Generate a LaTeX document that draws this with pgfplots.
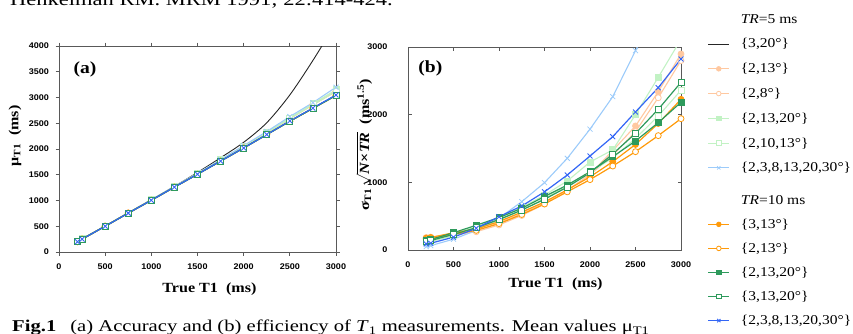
\documentclass[border=0pt]{standalone}
\usepackage{fontspec}
\setmainfont{Liberation Serif}[FakeStretch=1.15]
\setsansfont{Liberation Sans}[FakeStretch=1.1]
\newfontfamily\capfont{Liberation Serif}[FakeStretch=1.25]
\usepackage{amsmath}
\usepackage{pgfplots}
\usepackage{pgfplotstable}
\pgfplotsset{compat=1.18}
\definecolor{peach}{HTML}{FFC8A0}
\definecolor{lgreen}{HTML}{C2F2C4}
\definecolor{lblue}{HTML}{9CCBFA}
\definecolor{orng}{HTML}{FF9A0A}
\definecolor{grn}{HTML}{2E9A5C}
\definecolor{blu}{HTML}{3366F5}
\newcommand\ls{\rule[-3pt]{0pt}{12pt}}
\pgfplotsset{
  base/.style={
    scale only axis,
    xmin=0, xmax=3000,
    xtick={0,500,...,3000},
    scaled ticks=false,
    /pgf/number format/1000 sep={},
    /pgf/number format/assume math mode=true,
    ticklabel style={font=\sffamily\bfseries\fontsize{8.2}{9}\selectfont},
    axis line style={draw=black!65, line width=0.9pt},
    major tick style={draw=black!65, line width=0.7pt},
    major tick length=3.5pt,
    label style={font=\bfseries\fontsize{14}{16}\selectfont},
    legend image code/.code={\draw[mark repeat=2,mark phase=2,##1] plot coordinates {(0pt,0pt)(10.5pt,0pt)(21pt,0pt)};},
    legend image post style={mark size=2.3pt},
    legend cell align=left,
  },
  s5a/.style={black!85, line width=0.9pt, no markers, smooth},
  s5b/.style={peach, line width=1.1pt, mark=*, mark size=3pt, mark options={solid, line width=0.8pt, fill=peach, draw=peach}},
  s5c/.style={peach, line width=1.1pt, mark=*, mark size=3pt, mark options={solid, line width=0.8pt, fill=white, draw=peach}},
  s5d/.style={lgreen, line width=1.1pt, mark=square*, mark size=3pt, mark options={solid, line width=0.8pt, fill=lgreen, draw=lgreen}},
  s5e/.style={lgreen, line width=1.1pt, mark=square*, mark size=3pt, mark options={solid, line width=0.8pt, fill=white, draw=lgreen}},
  s5f/.style={lblue, line width=1.1pt, mark=x, mark size=3.5pt, mark options={solid, line width=0.8pt}},
  s10a/.style={orng, line width=1.2pt, mark=*, mark size=3pt, mark options={solid, line width=0.8pt, fill=orng, draw=orng}},
  s10b/.style={orng, line width=1.2pt, mark=*, mark size=3pt, mark options={solid, line width=0.8pt, fill=white, draw=orng}},
  s10c/.style={grn, line width=1.2pt, mark=square*, mark size=3pt, mark options={solid, line width=0.8pt, fill=grn, draw=grn}},
  s10d/.style={grn, line width=1.2pt, mark=square*, mark size=3pt, mark options={solid, line width=0.8pt, fill=white, draw=grn}},
  s10e/.style={blu, line width=1.2pt, mark=x, mark size=3.5pt, mark options={solid, line width=0.9pt}},
}
\pgfplotstableread{
T    k5a   k5b   k5c   k5d   k5e   k5f   k10a  k10b  k10c  k10d  k10e
200  200   205   205   205   205   205   200   200   200   200   200
250  250   255   255   255   255   255   250   250   250   250   250
500  505   505   505   505   505   505   500   500   500   500   500
750  760   758   758   758   758   760   755   755   755   755   755
1000 1015  1010  1010  1012  1010  1015  1005  1005  1005  1005  1005
1250 1275  1265  1265  1268  1265  1275  1260  1260  1260  1260  1260
1500 1545  1520  1520  1525  1520  1530  1510  1510  1510  1510  1510
1750 1830  1785  1785  1790  1785  1795  1765  1765  1765  1765  1765
2000 2130  2045  2045  2055  2045  2065  2020  2020  2020  2020  2020
2250 2510  2310  2310  2325  2310  2340  2280  2280  2280  2280  2280
2500 3050  2590  2590  2600  2590  2630  2540  2540  2540  2540  2545
2750 3720  2860  2860  2880  2860  2900  2790  2790  2790  2790  2795
3000 4450  3120  3120  3150  3120  3200  3040  3040  3040  3040  3050
}\tableA
\pgfplotstableread{
T    k5b   k5c   k5d   k5e   k5f   k10a  k10b  k10c  k10d  k10e
200  185   170   130   110   50    175   160   140   120   90
250  190   175   145   125   65    185   170   155   140   100
500  240   220   240   210   160   255   230   256   230   190
750  290   270   340   310   290   310   290   365   330   320
1000 400   370   470   440   470   420   390   480   450   493
1250 540   510   630   590   714   560   525   616   590   650
1500 700   680   810   760   995   710   680   790   750   860
1750 880   880   1020  950   1355  890   860   960   930   1108
2000 1120  1110  1300  1150  1786  1080  1040  1157  1140  1389
2250 1470  1400  1480  1360  2266  1305  1241  1379  1420  1675
2500 1833  1750  2000  1650  2946  1560  1453  1611  1724  2040
2750 2340  2250  2552  1980  3650  1870  1690  1882  2079  2399
3000 2897  2800  3115  2360  4400  2227  1941  2183  2478  2823
}\tableB
\begin{document}
\begin{tikzpicture}[x=1pt,y=1pt]
\useasboundingbox (0,0) rectangle (853,333);
% surrounding text of the page
\node[anchor=base west, inner sep=0pt, font=\capfont\fontsize{18}{20}\selectfont] at (10,327.5) {Henkelman RM. MRM 1991; 22:414-424.};
\node[anchor=base west, inner sep=0pt, font=\capfont\fontsize{16.5}{18}\selectfont] at (12,1.5) {\textbf{Fig.1}\hspace{14pt}(a) Accuracy and (b) efficiency of \textit{T}\textsubscript{1} measurements. Mean values μ\textsubscript{T1}};

% ---------------- (a)
\begin{axis}[base,
  at={(59pt,81pt)}, anchor=south west, width=277pt, height=206pt,
  ymin=0, ymax=4000, ytick={0,500,...,4000},
  tick align=outside,
  xticklabel style={yshift=-5pt},
  yticklabel style={xshift=-3pt},
  xlabel={True T1~~(ms)},
  xlabel style={at={(axis description cs:0.543,-0.18)}, anchor=center},
  ylabel={μ\textsubscript{T1}~~(ms)},
  ylabel style={at={(axis description cs:-0.159,0.563)}, anchor=center},
  legend style={at={(2.3411,1.165)}, anchor=north west, draw=none, fill=none, inner sep=0pt, row sep=9.9pt, column sep=9pt, font=\fontsize{13.5}{15}\selectfont},
]
\addlegendimage{empty legend}\addlegendentry{\ls\textit{TR}=5 ms}
\addlegendimage{s5a}\addlegendentry{\ls\{3,20°\}}
\addlegendimage{s5b}\addlegendentry{\ls\{2,13°\}}
\addlegendimage{s5c}\addlegendentry{\ls\{2,8°\}}
\addlegendimage{s5d}\addlegendentry{\ls\{2,13,20°\}}
\addlegendimage{s5e}\addlegendentry{\ls\{2,10,13°\}}
\addlegendimage{s5f}\addlegendentry{\ls\{2,3,8,13,20,30°\}}
\addplot[s5a, forget plot] table[x=T, y=k5a] {\tableA};
\addplot[s5b, forget plot] table[x=T, y=k5b] {\tableA};
\addplot[s5c, forget plot] table[x=T, y=k5c] {\tableA};
\addplot[s5d, forget plot] table[x=T, y=k5d] {\tableA};
\addplot[s5e, forget plot] table[x=T, y=k5e] {\tableA};
\addplot[s5f, forget plot] table[x=T, y=k5f] {\tableA};
\addplot[s10a, forget plot] table[x=T, y=k10a] {\tableA};
\addplot[s10b, forget plot] table[x=T, y=k10b] {\tableA};
\addplot[s10c, forget plot] table[x=T, y=k10c] {\tableA};
\addplot[s10d, forget plot] table[x=T, y=k10d] {\tableA};
\addplot[s10e, forget plot] table[x=T, y=k10e] {\tableA};
\node[font=\bfseries\fontsize{17}{19}\selectfont] at (axis description cs:0.094,0.888) {(a)};
\end{axis}

% ---------------- (b)
\begin{axis}[base,
  at={(408pt,83pt)}, anchor=south west, width=273pt, height=203pt,
  ymin=0, ymax=3000, ytick={0,1000,2000,3000},
  tick align=inside,
  yticklabel style={xshift=-17pt},
  xticklabel style={yshift=-8pt},
  xlabel={True T1~~(ms)},
  xlabel style={at={(axis description cs:0.540,-0.17)}, anchor=center},
  ylabel={σ\textsubscript{T1}\,$\sqrt{\text{\textit{N}×\textit{TR}}}$~~(ms\textsuperscript{1.5})},
  ylabel style={at={(axis description cs:-0.161,0.517)}, anchor=center},
  legend style={at={(1.0971,0.2807)}, anchor=north west, draw=none, fill=none, inner sep=0pt, row sep=9.2pt, column sep=9pt, font=\fontsize{13.5}{15}\selectfont},
]
\addlegendimage{empty legend}\addlegendentry{\ls\textit{TR}=10 ms}
\addlegendimage{s10a}\addlegendentry{\ls\{3,13°\}}
\addlegendimage{s10b}\addlegendentry{\ls\{2,13°\}}
\addlegendimage{s10c}\addlegendentry{\ls\{2,13,20°\}}
\addlegendimage{s10d}\addlegendentry{\ls\{3,13,20°\}}
\addlegendimage{s10e}\addlegendentry{\ls\{2,3,8,13,20,30°\}}
\addplot[s5b, forget plot] table[x=T, y=k5b] {\tableB};
\addplot[s5c, forget plot] table[x=T, y=k5c] {\tableB};
\addplot[s5d, forget plot] table[x=T, y=k5d] {\tableB};
\addplot[s5e, forget plot] table[x=T, y=k5e] {\tableB};
\addplot[s5f, forget plot] table[x=T, y=k5f] {\tableB};
\addplot[s10a, forget plot] table[x=T, y=k10a] {\tableB};
\addplot[s10b, forget plot] table[x=T, y=k10b] {\tableB};
\addplot[s10c, forget plot] table[x=T, y=k10c] {\tableB};
\addplot[s10d, forget plot] table[x=T, y=k10d] {\tableB};
\addplot[s10e, forget plot] table[x=T, y=k10e] {\tableB};
\node[font=\bfseries\fontsize{17}{19}\selectfont] at (axis description cs:0.082,0.894) {(b)};
\end{axis}
\end{tikzpicture}
\end{document}
